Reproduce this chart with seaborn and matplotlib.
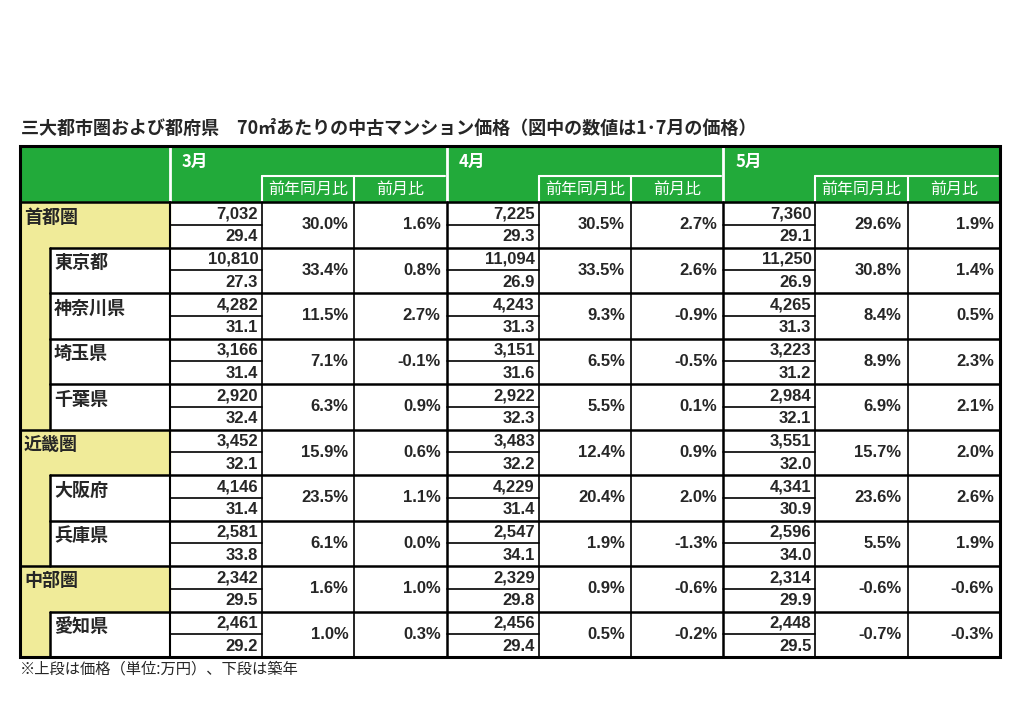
import numpy as np
import seaborn as sns
import matplotlib.pyplot as plt
from matplotlib.patches import Rectangle

sns.set_theme(style="white")
plt.rcParams['font.family'] = ['Noto Sans CJK JP', 'DejaVu Sans']
num_font = ['Liberation Sans', 'Noto Sans CJK JP']

## data
regions = ['首都圏', '東京都', '神奈川県', '埼玉県', '千葉県', '近畿圏', '大阪府', '兵庫県', '中部圏', '愛知県']
is_major = [True, False, False, False, False, True, False, False, True, False]
months = ['3月', '4月', '5月']
price = [[7032, 10810, 4282, 3166, 2920, 3452, 4146, 2581, 2342, 2461],
         [7225, 11094, 4243, 3151, 2922, 3483, 4229, 2547, 2329, 2456],
         [7360, 11250, 4265, 3223, 2984, 3551, 4341, 2596, 2314, 2448]]
age = [[29.4, 27.3, 31.1, 31.4, 32.4, 32.1, 31.4, 33.8, 29.5, 29.2],
       [29.3, 26.9, 31.3, 31.6, 32.3, 32.2, 31.4, 34.1, 29.8, 29.4],
       [29.1, 26.9, 31.3, 31.2, 32.1, 32.0, 30.9, 34.0, 29.9, 29.5]]
yoy = [[30.0, 33.4, 11.5, 7.1, 6.3, 15.9, 23.5, 6.1, 1.6, 1.0],
       [30.5, 33.5, 9.3, 6.5, 5.5, 12.4, 20.4, 1.9, 0.9, 0.5],
       [29.6, 30.8, 8.4, 8.9, 6.9, 15.7, 23.6, 5.5, -0.6, -0.7]]
mom = [[1.6, 0.8, 2.7, -0.1, 0.9, 0.6, 1.1, 0.0, 1.0, 0.3],
       [2.7, 2.6, -0.9, -0.5, 0.1, 0.9, 2.0, -1.3, -0.6, -0.2],
       [1.9, 1.4, 0.5, 2.3, 2.1, 2.0, 2.6, 1.9, -0.6, -0.3]]
sub_cols = ['前年同月比', '前月比']
title = '三大都市圏および都府県　70㎡あたりの中古マンション価格（図中の数値は1･7月の価格）'
note = '※上段は価格（単位:万円）、下段は築年'

## layout (pixels)
green = '#22aa3a'
yellow = '#f0eb99'
L, R = 20, 1000
top, head_mid, head_bot = 146, 176, 202
row_h = 45.5
lab_w, strip = 150, 30
blk = (R - L - lab_w) / 3
cw = [blk * 0.333, blk * 0.333, blk * 0.334]

fig = plt.figure(figsize=(10.24, 7.25), dpi=100)
ax = fig.add_axes([0, 0, 1, 1])
ax.set_xlim(0, 1024)
ax.set_ylim(725, 0)
ax.axis('off')

ax.text(21, 128, title, fontsize=13, fontweight='bold', va='center', ha='left')
ax.text(20, 669, note, fontsize=11, va='center', ha='left')

# header
ax.add_patch(Rectangle((L, top), R - L, head_bot - top, color=green, zorder=1))
for m, name in enumerate(months):
    x0 = L + lab_w + m * blk
    ax.plot([x0, x0], [top, head_bot], color='white', lw=2, zorder=2)
    ax.text(x0 + 12, top + 16, name, color='white', fontsize=12, fontweight='bold', va='center')
    xs = x0 + cw[0]
    ax.plot([xs, x0 + blk - 2], [head_mid, head_mid], color='white', lw=1.5, zorder=2)
    for k, s in enumerate(sub_cols):
        xa = xs + sum(cw[1:1 + k])
        ax.plot([xa, xa], [head_mid, head_bot], color='white', lw=1.5, zorder=2)
        ax.text(xa + cw[1 + k] / 2, (head_mid + head_bot) / 2, s, color='white',
                fontsize=11.5, ha='center', va='center')

# body
for i, reg in enumerate(regions):
    y0 = head_bot + i * row_h
    y1 = y0 + row_h
    if is_major[i]:
        ax.add_patch(Rectangle((L, y0), lab_w, row_h, color=yellow, zorder=1))
        ax.plot([L, R], [y0, y0], color='black', lw=1.8, zorder=3)
        ax.text(L + 4, y0 + 15, reg, fontsize=13, fontweight='bold', va='center')
    else:
        ax.add_patch(Rectangle((L, y0), strip, row_h, color=yellow, zorder=1))
        ax.plot([L + strip, R], [y0, y0], color='black', lw=1.8, zorder=3)
        ax.plot([L + strip, L + strip], [y0, y1], color='black', lw=1.8, zorder=3)
        ax.text(L + strip + 4, y0 + 15, reg, fontsize=13, fontweight='bold', va='center')
    for m in range(3):
        x0 = L + lab_w + m * blk
        xa = x0 + cw[0]
        xb = xa + cw[1]
        ax.plot([x0, xa], [y0 + row_h / 2, y0 + row_h / 2], color='black', lw=1.2, zorder=3)
        kw = dict(fontsize=12, fontweight='bold', family=num_font, va='center', ha='right')
        ax.text(xa - 4, y0 + row_h * 0.26, f'{price[m][i]:,}', **kw)
        ax.text(xa - 4, y0 + row_h * 0.76, f'{age[m][i]:.1f}', **kw)
        ax.text(xb - 6, y0 + row_h / 2, f'{yoy[m][i]:.1f}%', **kw)
        ax.text(xb + cw[2] - 6, y0 + row_h / 2, f'{mom[m][i]:.1f}%', **kw)

bottom = head_bot + len(regions) * row_h
# vertical lines in body
for m in range(3):
    x0 = L + lab_w + m * blk
    ax.plot([x0, x0], [head_bot, bottom], color='black', lw=1.8 if m else 1.5, zorder=3)
    for k in (1, 2):
        xa = x0 + sum(cw[:k])
        ax.plot([xa, xa], [head_bot, bottom], color='black', lw=1.2, zorder=3)
# outer border
ax.add_patch(Rectangle((L, top), R - L, bottom - top, fill=False, ec='black', lw=2.2, zorder=4))

fig.savefig('out.png', dpi=100)
